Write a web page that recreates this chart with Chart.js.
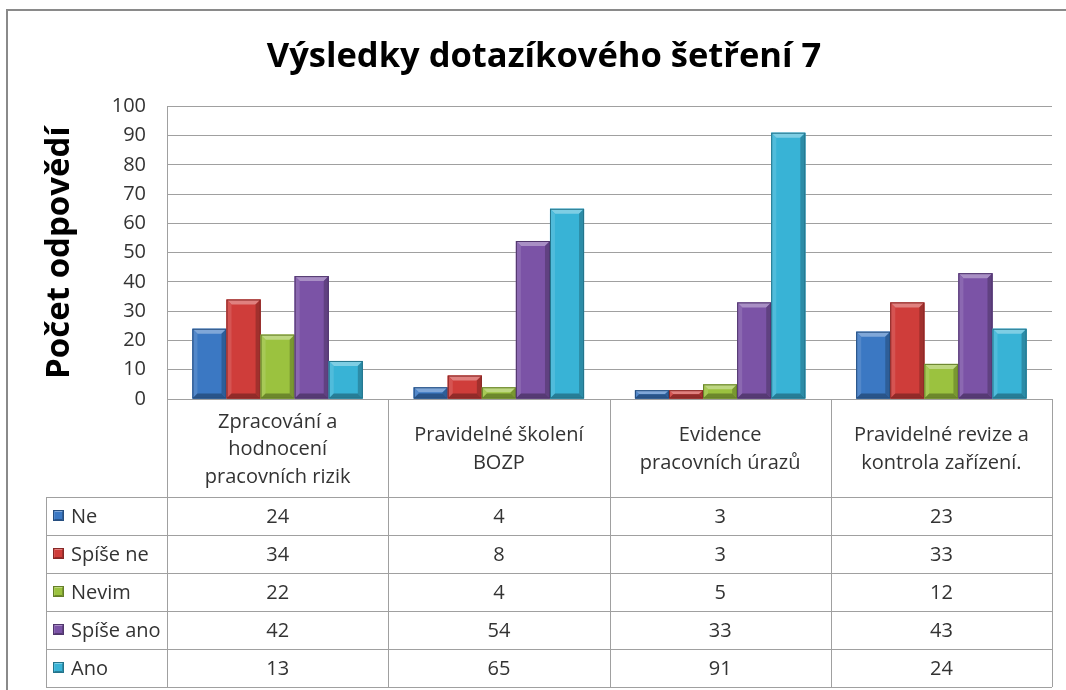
<!DOCTYPE html>
<html>
<head>
<meta charset="utf-8">
<script src="https://cdn.jsdelivr.net/npm/chart.js@4.4.1/dist/chart.umd.min.js"></script>
<style>
  html, body { margin: 0; padding: 0; background: #fff; }
  #wrap { width: 1066px; height: 690px; }
</style>
</head>
<body>
<div id="wrap"><canvas id="myChart"></canvas></div>
<script>
var categories = [
    ["Zpracování a", "hodnocení", "pracovních rizik"],
    ["Pravidelné školení", "BOZP"],
    ["Evidence", "pracovních úrazů"],
    ["Pravidelné revize a", "kontrola zařízení."]
];
var seriesNames = ["Ne", "Spíše ne", "Nevim", "Spíše ano", "Ano"];
var ne = [24, 4, 3, 23];
var spiseNe = [34, 8, 3, 33];
var nevim = [22, 4, 5, 12];
var spiseAno = [42, 54, 33, 43];
var ano = [13, 65, 91, 24];
var seriesValues = [ne, spiseNe, nevim, spiseAno, ano];
var barColors = ["#3b78c3", "#cf3d3a", "#9bc23f", "#7b53a6", "#38b3d6"];

var FONT = "'Open Sans', 'Noto Sans', sans-serif";
var tableTop = 497;
var rowH = 38;
var legendLeft = 46;

function shade(hex, amt) {
    // amt > 0 mixes with white, amt < 0 mixes with black
    var n = parseInt(hex.slice(1), 16);
    var r = (n >> 16) & 255, g = (n >> 8) & 255, b = n & 255;
    var t = amt < 0 ? 0 : 255, p = Math.abs(amt);
    r = Math.round(r + (t - r) * p);
    g = Math.round(g + (t - g) * p);
    b = Math.round(b + (t - b) * p);
    return "rgb(" + r + "," + g + "," + b + ")";
}

function bevelBox(ctx, x0, y0, x1, y1, color, bv) {
    var w = x1 - x0, h = y1 - y0;
    bv = Math.min(bv, w / 2, h / 2);
    ctx.fillStyle = color;
    ctx.fillRect(x0, y0, w, h);
    function poly(pts, fill) {
        ctx.beginPath();
        ctx.moveTo(pts[0], pts[1]);
        for (var i = 2; i < pts.length; i += 2) ctx.lineTo(pts[i], pts[i + 1]);
        ctx.closePath();
        ctx.fillStyle = fill;
        ctx.fill();
    }
    poly([x0, y0, x1, y0, x1 - bv, y0 + bv, x0 + bv, y0 + bv], shade(color, 0.35));
    poly([x0, y0, x0 + bv, y0 + bv, x0 + bv, y1 - bv, x0, y1], shade(color, 0.12));
    poly([x1, y0, x1, y1, x1 - bv, y1 - bv, x1 - bv, y0 + bv], shade(color, -0.22));
    poly([x0, y1, x0 + bv, y1 - bv, x1 - bv, y1 - bv, x1, y1], shade(color, -0.3));
    ctx.strokeStyle = shade(color, -0.35);
    ctx.lineWidth = 1;
    ctx.strokeRect(x0 + 0.5, y0 + 0.5, w - 1, h - 1);
}

var bevelPlugin = {
    id: 'bevel',
    afterDatasetsDraw: function (chart) {
        var ctx = chart.ctx;
        ctx.save();
        chart.data.datasets.forEach(function (ds, i) {
            var meta = chart.getDatasetMeta(i);
            meta.data.forEach(function (bar) {
                var x0 = bar.x - bar.width / 2, x1 = bar.x + bar.width / 2;
                var y0 = Math.min(bar.y, bar.base), y1 = Math.max(bar.y, bar.base);
                if (y1 - y0 < 1) return;
                bevelBox(ctx, x0, y0, x1, y1, barColors[i], 5);
            });
        });
        ctx.restore();
    }
};

var tablePlugin = {
    id: 'dataTable',
    afterDraw: function (chart) {
        var ctx = chart.ctx;
        var area = chart.chartArea;
        var xs = chart.scales.x;
        var n = categories.length;
        var colW = (area.right - area.left) / n;
        var bottom = tableTop + rowH * seriesNames.length;
        ctx.save();
        // outer chart frame
        ctx.strokeStyle = "#8a8a8a";
        ctx.lineWidth = 2;
        ctx.beginPath();
        ctx.moveTo(7, 700);
        ctx.lineTo(7, 10);
        ctx.lineTo(1080, 10);
        ctx.stroke();

        ctx.strokeStyle = "#a0a0a0";
        ctx.lineWidth = 1;
        ctx.beginPath();
        // horizontal lines
        ctx.moveTo(area.left, Math.round(area.bottom) + 0.5);
        ctx.lineTo(area.right, Math.round(area.bottom) + 0.5);
        for (var r = 0; r <= seriesNames.length; r++) {
            var yy = tableTop + r * rowH + 0.5;
            ctx.moveTo(legendLeft, yy);
            ctx.lineTo(area.right, yy);
        }
        // vertical lines
        for (var c = 0; c <= n; c++) {
            var xx = Math.round(xs.getPixelForValue(c) - colW / 2) + 0.5;
            ctx.moveTo(xx, area.bottom);
            ctx.lineTo(xx, bottom);
        }
        ctx.moveTo(legendLeft + 0.5, tableTop);
        ctx.lineTo(legendLeft + 0.5, bottom);
        ctx.stroke();

        // legend keys and values
        ctx.font = "20px " + FONT;
        ctx.textBaseline = "middle";
        seriesNames.forEach(function (name, s) {
            var cy = tableTop + s * rowH + rowH / 2;
            bevelBox(ctx, 53, Math.round(cy - 6), 64, Math.round(cy + 5), barColors[s], 2);
            ctx.fillStyle = "#333";
            ctx.textAlign = "left";
            ctx.fillText(name, 71, cy + 1);
            ctx.textAlign = "center";
            seriesValues[s].forEach(function (v, c) {
                ctx.fillText(String(v), xs.getPixelForValue(c), cy + 1);
            });
        });
        ctx.restore();
    }
};

var datasets = seriesNames.map(function (name, i) {
    return {
        label: name,
        data: seriesValues[i],
        backgroundColor: barColors[i],
        borderWidth: 0
    };
});

new Chart("myChart", {
    type: "bar",
    data: {
        labels: categories,
        datasets: datasets
    },
    options: {
        responsive: true,
        maintainAspectRatio: false,
        animation: false,
        layout: {
            padding: { left: 36, right: 14, top: 0, bottom: 690 - tableTop }
        },
        plugins: {
            legend: { display: false },
            tooltip: { enabled: false },
            title: {
                display: true,
                text: "Výsledky dotazíkového šetření 7",
                color: "#000",
                font: { family: FONT, size: 34.5, weight: "bold", lineHeight: 1.2 },
                padding: { top: 36, bottom: 29 }
            }
        },
        datasets: {
            bar: { categoryPercentage: 0.77, barPercentage: 1 }
        },
        scales: {
            x: {
                afterFit: function (scale) { scale.height = tableTop - 399; },
                grid: { display: false },
                border: { display: false },
                ticks: {
                    color: "#333",
                    font: { family: FONT, size: 20, lineHeight: 1.37 },
                    maxRotation: 0,
                    autoSkip: false,
                    crossAlign: "center",
                    padding: 15
                }
            },
            y: {
                min: 0,
                max: 100,
                afterFit: function (scale) { scale.width = 167 - 36; },
                grid: { color: "#a0a0a0", lineWidth: 1, drawTicks: false },
                border: { display: true, color: "#a0a0a0" },
                ticks: {
                    stepSize: 10,
                    color: "#333",
                    font: { family: FONT, size: 20 },
                    padding: 21
                },
                title: {
                    display: true,
                    text: "Počet odpovědí",
                    color: "#000",
                    font: { family: FONT, size: 33, weight: "bold", lineHeight: 1.2 },
                    padding: { top: 4, bottom: 4 }
                }
            }
        }
    },
    plugins: [bevelPlugin, tablePlugin]
});
</script>
</body>
</html>
